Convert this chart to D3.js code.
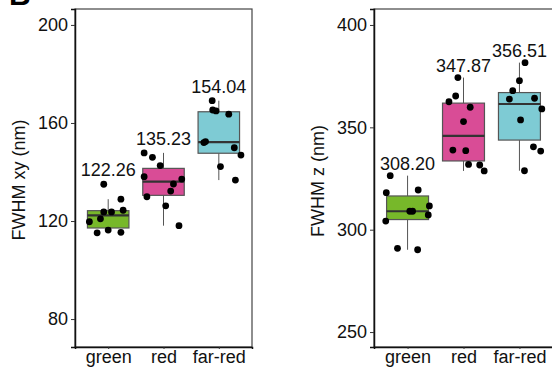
<!DOCTYPE html>
<html>
<head>
<meta charset="utf-8">
<script src="https://cdn.jsdelivr.net/npm/d3@7"></script>
<style>
  body { margin: 0; background: #fff; }
  text { font-family: "Liberation Sans", Arial, sans-serif; }
</style>
</head>
<body>
<script>
// categories and colours
var categories = ['green', 'red', 'far-red'];
var fills = ['#77b82a', '#d94c96', '#7ecbd4'];

// FWHM xy values (nm), one array per channel
var xyGreen  = [119.7, 115.2, 120.9, 135.0, 123.7, 116.3, 123.7, 128.9, 115.4, 124.4];
var xyRed    = [147.8, 146.0, 142.6, 138.1, 129.9, 126.2, 132.2, 135.1, 118.1, 137.1];
var xyFarRed = [169.1, 165.3, 164.9, 163.6, 152.0, 152.4, 149.9, 146.9, 142.2, 136.7];
// horizontal jitter of each point, in category units
var xyJitterGreen  = [-0.34, -0.20, -0.14, -0.08, -0.08, 0.00, 0.06, 0.23, 0.23, 0.27];
var xyJitterRed    = [-0.35, -0.20, -0.06, -0.35, -0.30, 0.04, 0.13, 0.18, 0.28, 0.33];
var xyJitterFarRed = [-0.12, -0.11, -0.05, 0.18, -0.27, -0.24, 0.28, 0.40, 0.03, 0.30];
var xyLabels = ['122.26', '135.23', '154.04'];
var xyTicks = [80, 120, 160, 200];

// FWHM z values (nm)
var zGreen  = [326.4, 318.1, 319.4, 311.6, 309.0, 309.0, 307.2, 304.2, 290.9, 290.2];
var zRed    = [374.3, 365.3, 362.5, 359.8, 352.8, 338.9, 338.6, 331.9, 331.6, 328.7];
var zFarRed = [381.6, 372.8, 367.9, 363.8, 364.2, 359.0, 353.6, 340.5, 338.4, 328.8];
var zJitterGreen  = [-0.31, -0.38, 0.19, 0.39, 0.04, 0.09, 0.37, -0.39, -0.18, 0.18];
var zJitterRed    = [-0.10, -0.14, -0.26, 0.12, 0.00, -0.19, 0.04, 0.09, 0.29, 0.37];
var zJitterFarRed = [0.10, 0.00, -0.12, -0.18, 0.27, 0.40, 0.02, 0.25, 0.38, 0.09];
var zLabels = ['308.20', '347.87', '356.51'];
var zTicks = [250, 300, 350, 400];

var svg = d3.select('body').append('svg')
    .attr('width', 552)
    .attr('height', 369);

// panel letter, mostly cut off at the top
svg.append('text')
    .attr('x', 9)
    .attr('y', 5)
    .attr('font-size', '30px')
    .attr('font-weight', 'bold')
    .text('B');

function boxStats(values) {
    var s = values.slice().sort(d3.ascending);
    var q1 = d3.quantile(s, 0.25), med = d3.quantile(s, 0.5), q3 = d3.quantile(s, 0.75);
    var iqr = q3 - q1;
    var lo = d3.min(s.filter(function (v) { return v >= q1 - 1.5 * iqr; }));
    var hi = d3.max(s.filter(function (v) { return v <= q3 + 1.5 * iqr; }));
    return { q1: q1, med: med, q3: q3, lo: lo, hi: hi, max: d3.max(s) };
}

function drawPanel(p) {
    var x = d3.scaleLinear().domain([0.4, 3.6]).range([p.left, p.right]);
    var y = d3.scaleLinear().domain(p.yDomain).range([347, 9]);
    var g = svg.append('g');

    // frame
    g.append('rect')
        .attr('x', p.left)
        .attr('y', 9)
        .attr('width', p.right - p.left)
        .attr('height', 338)
        .attr('fill', 'none')
        .attr('stroke', '#444')
        .attr('stroke-width', 1.2);

    // y axis
    var yaxis = d3.axisLeft(y).tickValues(p.ticks).tickSize(4).tickPadding(3);
    var ya = g.append('g')
        .attr('transform', 'translate(' + p.left + ',0)')
        .call(yaxis);
    ya.select('.domain').attr('stroke', '#111').attr('stroke-width', 1.5);
    ya.selectAll('text').attr('font-size', '18px').attr('fill', '#111')
        .style('font-family', '"Liberation Sans", Arial, sans-serif');
    ya.selectAll('line').attr('stroke', '#333');

    // x axis
    var xaxis = d3.axisBottom(x).tickValues([1, 2, 3])
        .tickFormat(function (d) { return categories[d - 1]; })
        .tickSize(2).tickPadding(1);
    var xa = g.append('g')
        .attr('transform', 'translate(0,347)')
        .call(xaxis);
    xa.select('.domain').attr('stroke', '#111').attr('stroke-width', 1.5);
    xa.selectAll('text').attr('font-size', '18px').attr('fill', '#111')
        .style('font-family', '"Liberation Sans", Arial, sans-serif');
    xa.selectAll('line').attr('stroke', '#333');

    // axis title
    g.append('text')
        .attr('transform', 'translate(' + p.titleX + ',' + (p.titleY) + ') rotate(-90)')
        .attr('text-anchor', 'middle')
        .attr('font-size', '18px')
        .attr('fill', '#111')
        .text(p.title);

    var bw = 0.75;
    p.series.forEach(function (vals, i) {
        var st = boxStats(vals);
        var cx = i + 1;
        // whiskers
        g.append('line')
            .attr('x1', x(cx)).attr('x2', x(cx))
            .attr('y1', y(st.hi)).attr('y2', y(st.q3))
            .attr('stroke', '#555').attr('stroke-width', 1);
        g.append('line')
            .attr('x1', x(cx)).attr('x2', x(cx))
            .attr('y1', y(st.q1)).attr('y2', y(st.lo))
            .attr('stroke', '#555').attr('stroke-width', 1);
        // box
        g.append('rect')
            .attr('x', x(cx - bw / 2))
            .attr('y', y(st.q3))
            .attr('width', x(cx + bw / 2) - x(cx - bw / 2))
            .attr('height', y(st.q1) - y(st.q3))
            .attr('fill', fills[i])
            .attr('stroke', '#555')
            .attr('stroke-width', 1.2);
        // median
        g.append('line')
            .attr('x1', x(cx - bw / 2)).attr('x2', x(cx + bw / 2))
            .attr('y1', y(st.med)).attr('y2', y(st.med))
            .attr('stroke', '#333').attr('stroke-width', 2.2);
        // points
        g.selectAll('.pt' + i)
            .data(vals)
            .enter().append('circle')
            .attr('cx', function (d, j) { return x(cx + p.jitter[i][j]); })
            .attr('cy', function (d) { return y(d); })
            .attr('r', 3.4)
            .attr('fill', '#000');
        // mean label
        g.append('text')
            .attr('x', x(cx))
            .attr('y', y(st.max) - p.labelPad)
            .attr('text-anchor', 'middle')
            .attr('font-size', '18px')
            .attr('fill', '#111')
            .text(p.labels[i]);
    });
}

drawPanel({
    left: 75, right: 252,
    yDomain: [68.6, 206.5],
    ticks: xyTicks,
    title: 'FWHM xy (nm)', titleX: 25, titleY: 180,
    series: [xyGreen, xyRed, xyFarRed],
    jitter: [xyJitterGreen, xyJitterRed, xyJitterFarRed],
    labels: xyLabels,
    labelPad: 8
});

drawPanel({
    left: 374, right: 553,
    yDomain: [242.7, 407.8],
    ticks: zTicks,
    title: 'FWHM z (nm)', titleX: 324, titleY: 181,
    series: [zGreen, zRed, zFarRed],
    jitter: [zJitterGreen, zJitterRed, zJitterFarRed],
    labels: zLabels,
    labelPad: 6
});
</script>
</body>
</html>
